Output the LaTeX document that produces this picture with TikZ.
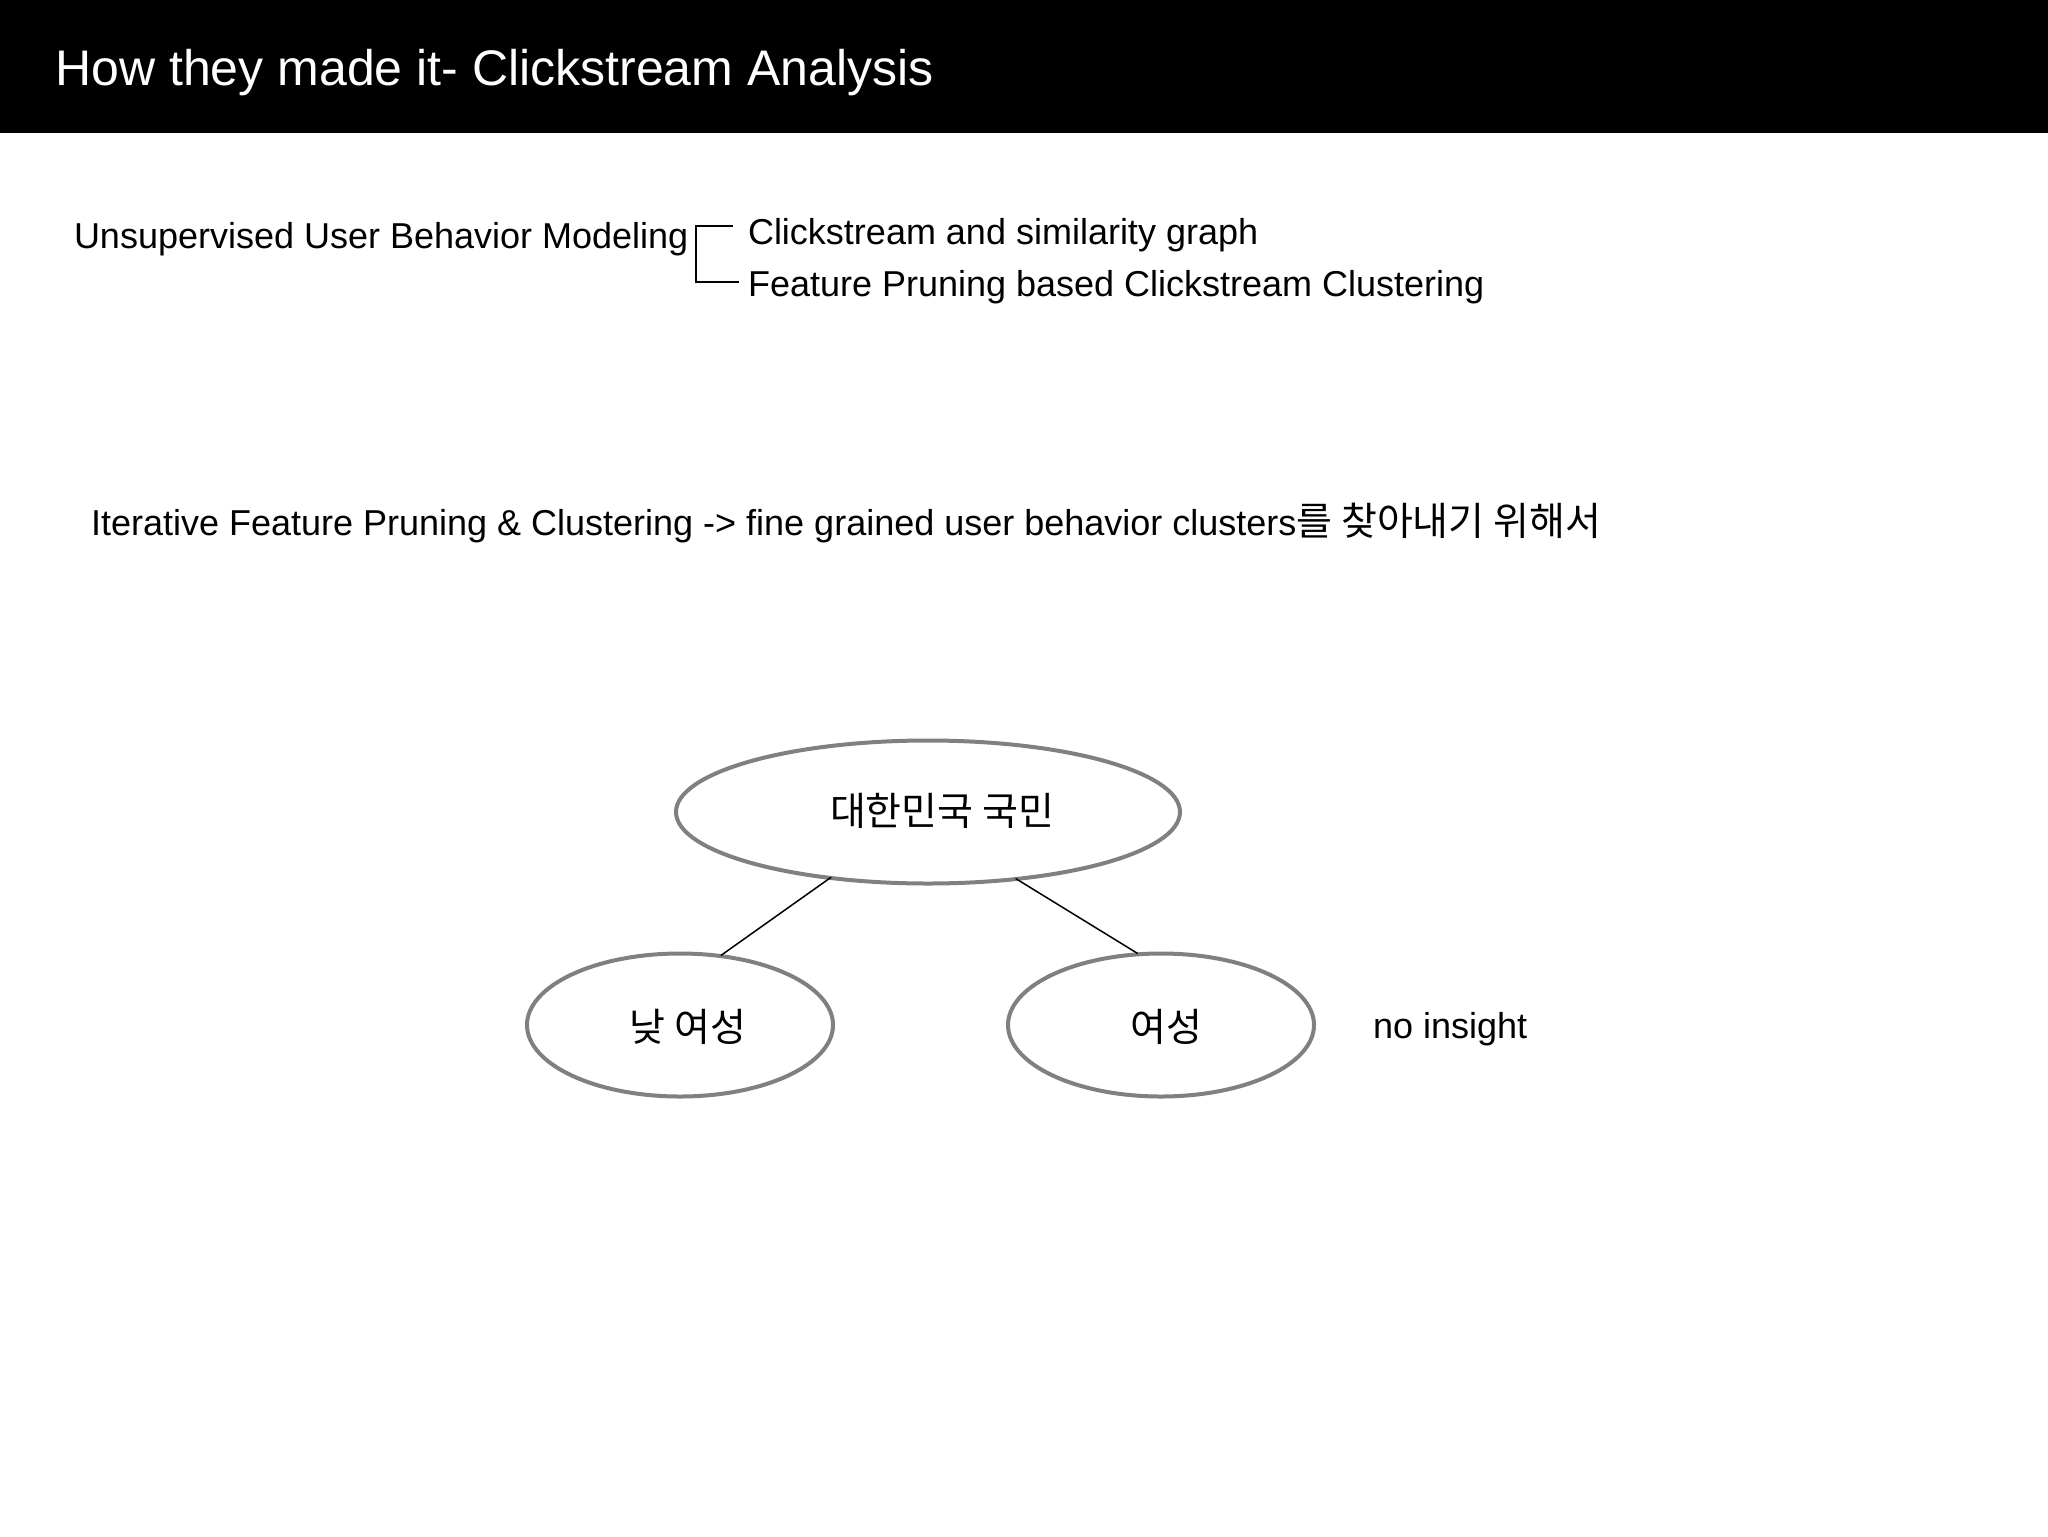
\documentclass[tikz,border=0pt]{standalone}
\usepackage{fontspec}
\setmainfont{Liberation Sans}
\newfontfamily\kr{Noto Sans CJK KR}
\usetikzlibrary{shapes.geometric}
\definecolor{ringgray}{HTML}{808080}
\begin{document}
\begin{tikzpicture}[x=0.5pt,y=-0.5pt,
  body/.style={inner sep=0pt,outer sep=0pt,anchor=base west,font=\fontsize{18}{21.6}\selectfont},
  ring/.style={ellipse,draw=ringgray,line width=2pt,inner sep=0pt,minimum width=252pt,minimum height=71.5pt},
  small ring/.style={ring,minimum width=153pt},
  ktext/.style={inner sep=0pt,font=\fontsize{19.5}{23}\selectfont\kr},
  link/.style={draw=black,line width=0.75pt,shorten <=-2pt,shorten >=-1pt}]
\useasboundingbox (0,0) rectangle (2048,1536);
\fill[white] (0,0) rectangle (2048,1536);
% header band
\fill[black] (0,0) rectangle (2048,133);
\node[inner sep=0pt,anchor=base west,text=white,font=\fontsize{25}{30}\selectfont] (title) at (55,86) {How they made it- Clickstream Analysis};
% first block
\node[body] (usm) at (74,248) {Unsupervised User Behavior Modeling};
\node[body] (clk) at (748,244) {Clickstream and similarity graph};
\node[body] (fpc) at (748,296) {Feature Pruning based Clickstream Clustering};
\coordinate (bt) at (733,226);
\coordinate (bc1) at (696,226);
\coordinate (bc2) at (696,282);
\coordinate (bb) at (739,282);
\draw[line width=1pt] (bt) -- (bc1) -- (bc2) -- (bb);
% second line
\node[body] (iter) at (91,535) {Iterative Feature Pruning \& Clustering -> fine grained user behavior clusters{\fontsize{19.5}{23}\selectfont\kr 를 찾아내기 위해서}};
% tree
\node[ring] (top) at (928,812) {};
\node[small ring] (left) at (680,1025) {};
\node[small ring] (right) at (1161,1025) {};
\node[ktext] (toptxt) at (942,811) {대한민국 국민};
\node[ktext] (lefttxt) at (688,1027) {낮 여성};
\node[ktext] (righttxt) at (1166,1027) {여성};
\draw[link] (top.214.5) -- (left.59);
\draw[link] (top.323.5) -- (right.109.5);
\node[body] (noins) at (1373,1038) {no insight};
\end{tikzpicture}
\end{document}
